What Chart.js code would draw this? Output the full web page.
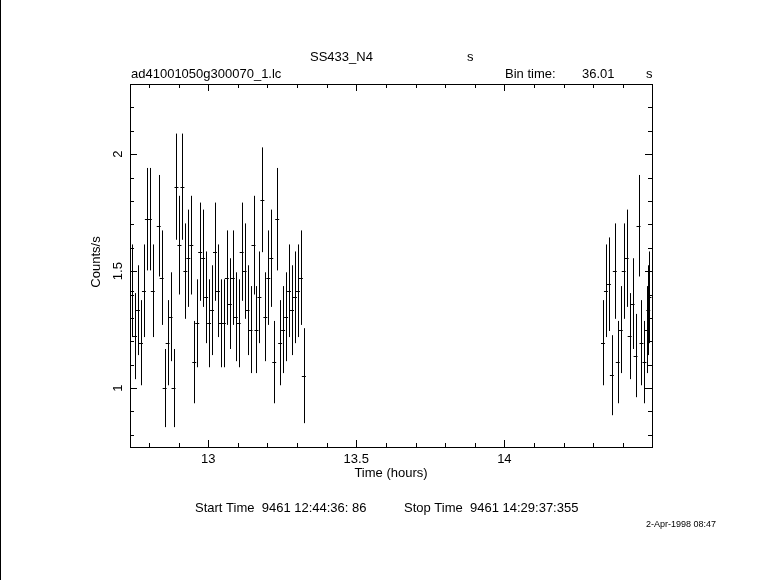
<!DOCTYPE html>
<html>
<head>
<meta charset="utf-8">
<script src="https://cdn.jsdelivr.net/npm/chart.js@4.4.1/dist/chart.umd.min.js"></script>
<style>
  html, body { margin: 0; padding: 0; background: #fff; }
  #wrap { width: 781px; height: 580px; }
</style>
</head>
<body>
<div id="wrap"><canvas id="lcChart" width="781" height="580"></canvas></div>
<script>
// first orbit segment (bin start, hours)
const timesA = [12.743, 12.753, 12.763, 12.773, 12.783, 12.793, 12.803, 12.813,
  12.833, 12.843, 12.853, 12.863, 12.873, 12.883, 12.893, 12.903, 12.913, 12.923,
  12.933, 12.943, 12.953, 12.963, 12.973, 12.983, 12.993, 13.003, 13.013, 13.023,
  13.033, 13.043, 13.053, 13.063, 13.073, 13.083, 13.093, 13.103, 13.113, 13.123,
  13.133, 13.143, 13.153, 13.163, 13.173, 13.183, 13.193, 13.203, 13.213, 13.223,
  13.233, 13.243, 13.253, 13.263, 13.273, 13.283, 13.293, 13.303, 13.313, 13.323]
const ratesA = [1.416, 1.222, 1.333, 1.194, 1.416, 1.722, 1.722, 1.416,
  1.694, 1.472, 1.0, 1.194, 1.305, 1.0, 1.861, 1.611, 1.861, 1.5,
  1.555, 1.611, 1.111, 1.277, 1.583, 1.555, 1.388, 1.277, 1.333, 1.583,
  1.416, 1.277, 1.277, 1.472, 1.361, 1.472, 1.305, 1.277, 1.583, 1.5,
  1.333, 1.25, 1.611, 1.25, 1.388, 1.805, 1.305, 1.472, 1.555, 1.111,
  1.722, 1.194, 1.25, 1.305, 1.416, 1.333, 1.388, 1.416, 1.472, 1.053]
const errorsA = [0.198, 0.184, 0.192, 0.182, 0.198, 0.219, 0.219, 0.198,
  0.217, 0.202, 0.167, 0.182, 0.190, 0.167, 0.227, 0.211, 0.227, 0.204,
  0.208, 0.211, 0.176, 0.188, 0.210, 0.208, 0.196, 0.188, 0.192, 0.210,
  0.198, 0.188, 0.188, 0.202, 0.194, 0.202, 0.190, 0.188, 0.210, 0.204,
  0.192, 0.186, 0.211, 0.186, 0.196, 0.224, 0.190, 0.202, 0.208, 0.176,
  0.219, 0.182, 0.186, 0.190, 0.198, 0.192, 0.196, 0.198, 0.202, 0.203]

// second orbit segment
const timesB = [14.333, 14.343, 14.353, 14.363, 14.373, 14.383, 14.393, 14.403,
  14.413, 14.423, 14.433, 14.443, 14.453, 14.463, 14.473, 14.481, 14.486, 14.490]
const ratesB = [1.194, 1.416, 1.444, 1.055, 1.5, 1.111, 1.25, 1.5,
  1.555, 1.222, 1.361, 1.139, 1.694, 1.194, 1.111, 1.25, 1.333, 1.388]
const errorsB = [0.182, 0.198, 0.200, 0.171, 0.204, 0.176, 0.186, 0.204,
  0.208, 0.184, 0.194, 0.178, 0.217, 0.182, 0.176, 0.186, 0.192, 0.196]

const xTicks = [13, 13.5, 14]
const xTickLabels = ['13', '13.5', '14']
const yTicks = [1, 1.5, 2]
const yTickLabels = ['1', '1.5', '2']
const halfBin = 0.005 // hours, bin time 36.01 s

const toPoints = (ts, rs, es) => ts.map((t, i) => ({ x: t, y: rs[i], err: es[i] }))

const FONT = '13px "Liberation Sans", Arial, sans-serif'

// error bars: vertical +-err, horizontal over the bin
const errorBars = {
  id: 'errorBars',
  afterDatasetsDraw (chart) {
    const { ctx, scales: { x, y } } = chart
    ctx.save()
    ctx.strokeStyle = '#000'
    ctx.lineWidth = 1
    ctx.beginPath()
    chart.data.datasets.forEach(ds => {
      ds.data.forEach(p => {
        const px = Math.round(x.getPixelForValue(p.x)) + 0.5
        const py = Math.round(y.getPixelForValue(p.y)) + 0.5
        ctx.moveTo(px, y.getPixelForValue(p.y + p.err))
        ctx.lineTo(px, y.getPixelForValue(p.y - p.err))
        ctx.moveTo(x.getPixelForValue(p.x - halfBin) - 0.5, py)
        ctx.lineTo(x.getPixelForValue(p.x + halfBin) + 0.5, py)
      })
    })
    ctx.stroke()
    ctx.restore()
  }
}

// box, inward ticks and all the text
const frame = {
  id: 'frame',
  afterDraw (chart) {
    const { ctx, chartArea: a, scales: { x, y } } = chart
    ctx.save()
    ctx.strokeStyle = '#000'
    ctx.lineWidth = 1
    ctx.beginPath()
    ctx.moveTo(0.5, 0)
    ctx.lineTo(0.5, chart.height)
    ctx.stroke()
    ctx.strokeRect(a.left + 0.5, a.top + 0.5, a.right - a.left, a.bottom - a.top)

    ctx.beginPath()
    for (let k = 128; k <= 144; k++) {
      const len = k % 5 === 0 ? 7 : 4
      const px = Math.round(x.getPixelForValue(k / 10)) + 0.5
      ctx.moveTo(px, a.bottom); ctx.lineTo(px, a.bottom - len)
      ctx.moveTo(px, a.top); ctx.lineTo(px, a.top + len)
    }
    for (let k = 8; k <= 23; k++) {
      const len = k % 5 === 0 ? 7 : 4
      const py = Math.round(y.getPixelForValue(k / 10)) + 0.5
      ctx.moveTo(a.left, py); ctx.lineTo(a.left + len, py)
      ctx.moveTo(a.right, py); ctx.lineTo(a.right - len, py)
    }
    ctx.stroke()

    ctx.fillStyle = '#000'
    ctx.font = FONT
    ctx.textBaseline = 'middle'
    ctx.textAlign = 'center'
    xTicks.forEach((v, i) => ctx.fillText(xTickLabels[i], x.getPixelForValue(v), a.bottom + 12))
    ctx.fillText('Time (hours)', (a.left + a.right) / 2, 473)
    yTicks.forEach((v, i) => {
      ctx.save()
      ctx.translate(118, y.getPixelForValue(v))
      ctx.rotate(-Math.PI / 2)
      ctx.fillText(yTickLabels[i], 0, 0)
      ctx.restore()
    })
    ctx.save()
    ctx.translate(96, 262)
    ctx.rotate(-Math.PI / 2)
    ctx.fillText('Counts/s', 0, 0)
    ctx.restore()

    ctx.textAlign = 'left'
    ctx.fillText('SS433_N4', 310, 57)
    ctx.fillText('s', 467, 57)
    ctx.fillText('ad41001050g300070_1.lc', 131, 74)
    ctx.fillText('Bin time:', 505, 74)
    ctx.fillText('36.01', 582, 74)
    ctx.fillText('s', 646, 74)
    ctx.fillText('Start Time  9461 12:44:36: 86', 195, 508)
    ctx.fillText('Stop Time  9461 14:29:37:355', 404, 508)
    ctx.font = '9px "Liberation Sans", Arial, sans-serif'
    ctx.fillText('2-Apr-1998 08:47', 646, 525)
    ctx.restore()
  }
}

const ctx = document.getElementById('lcChart').getContext('2d')

const lcChart = new Chart(ctx, {
  type: 'scatter',
  data: {
    datasets: [
      { data: toPoints(timesA, ratesA, errorsA), pointRadius: 0, showLine: false },
      { data: toPoints(timesB, ratesB, errorsB), pointRadius: 0, showLine: false }
    ]
  },
  options: {
    responsive: false,
    animation: false,
    events: [],
    layout: {
      padding: { left: 130, top: 84, right: 129, bottom: 133 }
    },
    plugins: {
      legend: { display: false },
      tooltip: { enabled: false }
    },
    scales: {
      x: { type: 'linear', min: 12.736, max: 14.4985, display: false },
      y: { type: 'linear', min: 0.748, max: 2.3, display: false }
    }
  },
  plugins: [errorBars, frame]
})
</script>
</body>
</html>
